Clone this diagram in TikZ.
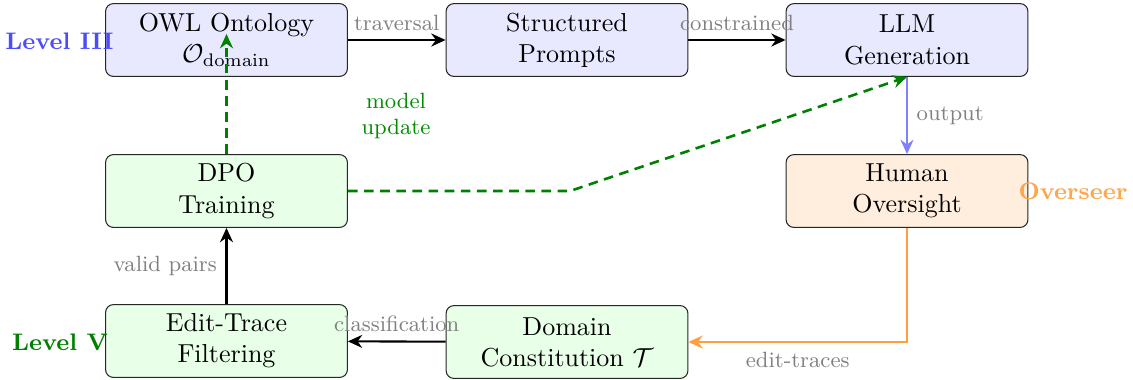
\documentclass[tikz,border=0pt]{standalone}
\usetikzlibrary{arrows.meta}
\begin{document}
\begin{tikzpicture}[x=0.3846pt, y=-0.3846pt,
  box/.style={draw=black!85, rounded corners=3pt, minimum width=93pt, minimum height=28pt, inner sep=0pt, align=center, font=\normalsize},
  bluebox/.style={box, fill=blue!9},
  greenbox/.style={box, fill=green!9},
  orangebox/.style={box, fill=orange!13},
  lbl/.style={text=gray, font=\fontsize{8.5}{10.2}\selectfont},
  arr/.style={-{Stealth[length=5.5pt,width=5pt]}, thick},
  dsh/.style={dash pattern=on 3.7pt off 2.5pt, line width=1pt, green!50!black},
  lvl/.style={font=\fontsize{9.2}{11}\selectfont\bfseries}
]
\useasboundingbox (0,0) rectangle (1133,379);

\node[bluebox] (owl) at (226.5,40) {OWL Ontology\\$\mathcal{O}_{\mathrm{domain}}$};
\node[bluebox] (prompts) at (567,40) {Structured\\Prompts};
\node[bluebox] (llm) at (907,40) {LLM\\Generation};
\node[orangebox] (human) at (907,191) {Human\\Oversight};
\node[greenbox] (dpo) at (226.5,191) {DPO\\Training};
\node[greenbox] (edit) at (226.5,341) {Edit-Trace\\Filtering};
\node[greenbox] (dom) at (567,342) {Domain\\Constitution $\mathcal{T}$};

\node[lvl, text=blue!70] (l3) at (59.5,41) {Level III};
\node[lvl, text=green!50!black] (l5) at (60,342) {Level V};
\node[lvl, text=orange!70] (ov) at (1073,191) {Overseer};

\draw[arr] (owl) -- node[lbl, above] {traversal} (prompts);
\draw[arr] (prompts) -- node[lbl, above] {constrained} (llm);
\draw[arr, blue!50] (llm) -- node[lbl, right] {output} (human);
\draw[arr, orange!75] (human.south) |- node[lbl, below, pos=0.75] {edit-traces} (dom.east);
\draw[arr] (dom) -- node[lbl, above] {classification} (edit);
\draw[arr] (edit) -- node[lbl, left] {valid pairs} (dpo);

\coordinate (owlin) at (226.5,34);
\coordinate (bend) at (570,191);
\draw[arr, dsh] (dpo.north) -- (owlin);
\draw[arr, dsh] (dpo.east) -- (bend) -- (llm.south);
\node[lbl, text=green!55!black, align=center] (mu) at (396,116) {model\\update};
\end{tikzpicture}
\end{document}
